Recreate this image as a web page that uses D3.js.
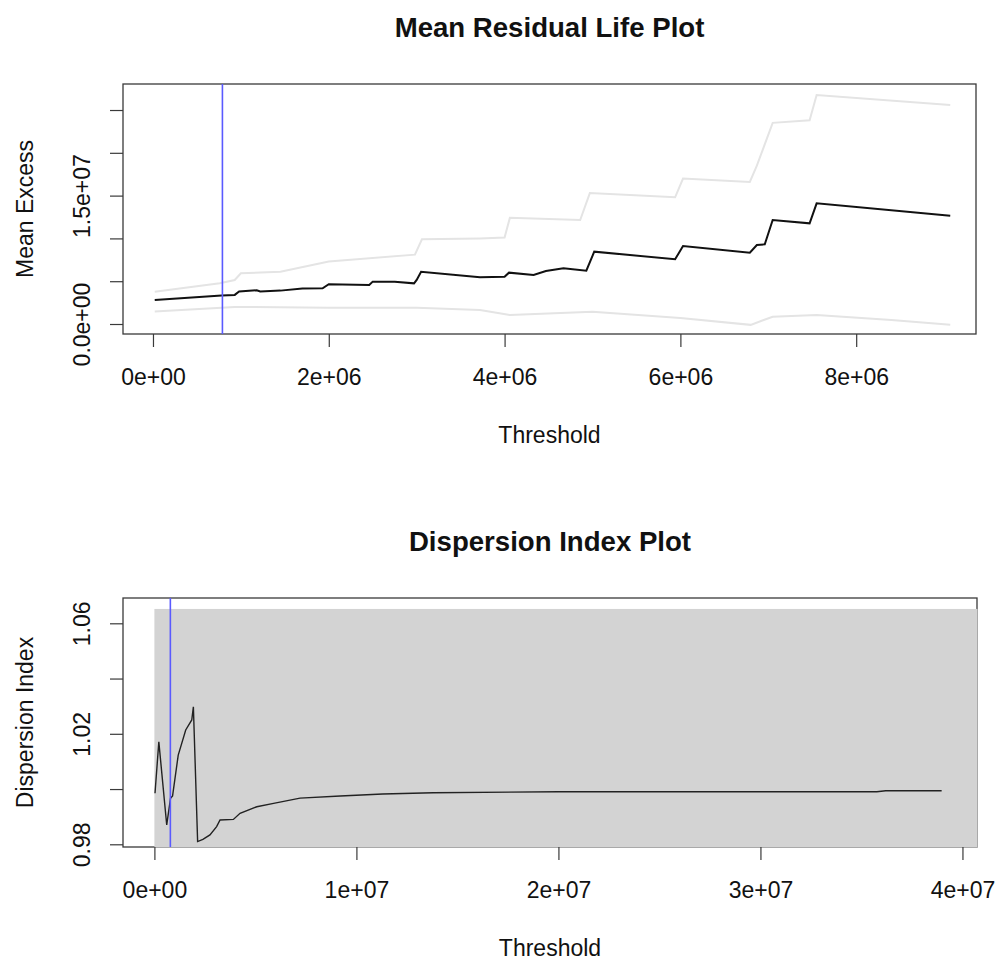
<!DOCTYPE html>
<html>
<head>
<meta charset="utf-8">
<script src="https://cdn.jsdelivr.net/npm/d3@7"></script>
<style>
    body { margin: 0; background: #fff; }
    svg text { font-family: "Liberation Sans", Arial, Helvetica, sans-serif; fill: #111; }
</style>
</head>
<body>
<div id="chart"></div>
<script>
// Mean residual life plot: threshold vs mean excess
const mrlThreshold = [0.02e6, 0.78e6, 0.93e6, 0.98e6, 1.18e6, 1.22e6, 1.45e6, 1.70e6, 1.93e6, 2.00e6, 2.46e6, 2.50e6,
    2.75e6, 2.97e6, 3.00e6, 3.05e6, 3.72e6, 4.00e6, 4.05e6, 4.33e6, 4.47e6, 4.67e6, 4.93e6, 5.02e6, 5.94e6, 6.03e6,
    6.79e6, 6.87e6, 6.96e6, 7.05e6, 7.47e6, 7.55e6, 9.07e6];
const mrlMean = [2.80e6, 3.32e6, 3.40e6, 3.80e6, 3.95e6, 3.80e6, 3.90e6, 4.15e6, 4.18e6, 4.65e6, 4.55e6, 4.95e6,
    4.95e6, 4.75e6, 5.15e6, 6.10e6, 5.45e6, 5.53e6, 6.00e6, 5.73e6, 6.20e6, 6.50e6, 6.23e6, 8.45e6, 7.56e6, 9.11e6,
    8.33e6, 9.23e6, 9.31e6, 12.15e6, 11.76e6, 14.10e6, 12.65e6];

// upper and lower confidence bands (very light grey)
const mrlUpperThreshold = [0.02e6, 0.76e6, 0.93e6, 1.00e6, 1.45e6, 2.00e6, 2.98e6, 3.06e6, 3.72e6, 4.00e6, 4.06e6,
    4.86e6, 4.97e6, 5.94e6, 6.03e6, 6.79e6, 6.87e6, 7.05e6, 7.47e6, 7.55e6, 9.07e6];
const mrlUpper = [3.77e6, 4.75e6, 5.14e6, 5.92e6, 6.10e6, 7.30e6, 8.10e6, 9.90e6, 10.0e6, 10.1e6, 12.4e6,
    12.15e6, 15.3e6, 14.8e6, 17.0e6, 16.6e6, 18.5e6, 23.5e6, 23.8e6, 26.75e6, 25.6e6];
const mrlLowerThreshold = [0.02e6, 0.93e6, 2.00e6, 3.00e6, 3.72e6, 4.06e6, 5.00e6, 6.00e6, 6.80e6, 7.05e6, 7.55e6,
    8.40e6, 9.07e6];
const mrlLower = [1.45e6, 2.00e6, 1.90e6, 1.90e6, 1.64e6, 1.05e6, 1.44e6, 0.70e6, -0.10e6, 0.85e6, 1.05e6,
    0.47e6, -0.10e6];

const mrlXTicks = [0, 2e6, 4e6, 6e6, 8e6];
const mrlXLabels = ['0e+00', '2e+06', '4e+06', '6e+06', '8e+06'];
const mrlYTicks = [0, 5e6, 1e7, 1.5e7, 2e7, 2.5e7];
const mrlYLabels = ['0.0e+00', '', '', '1.5e+07', '', ''];

// Dispersion index plot
const diThreshold = [0.03e6, 0.22e6, 0.61e6, 0.80e6, 0.90e6, 1.18e6, 1.55e6, 1.85e6, 1.93e6, 2.14e6, 2.40e6,
    2.75e6, 3.08e6, 3.25e6, 3.91e6, 4.24e6, 5.07e6, 5.90e6, 7.21e6, 9.20e6, 11.3e6, 13.8e6, 20.0e6, 35.76e6,
    36.2e6, 38.97e6];
const diValue = [0.9985, 1.0171, 0.9870, 0.9967, 0.9975, 1.0123, 1.0214, 1.0250, 1.0298, 0.9810, 0.9818,
    0.9834, 0.9864, 0.9888, 0.9890, 0.9912, 0.9936, 0.9948, 0.9967, 0.9975, 0.9982, 0.99868, 0.9990, 0.9990,
    0.9994, 0.9994];
const diCiThreshold = [0, 41e6];
const diCiUpper = 1.0652;
const diCiLower = 0.9748;

const diXTicks = [0, 1e7, 2e7, 3e7, 4e7];
const diXLabels = ['0e+00', '1e+07', '2e+07', '3e+07', '4e+07'];
const diYTicks = [0.98, 1.00, 1.02, 1.04, 1.06];
const diYLabels = ['0.98', '', '1.02', '', '1.06'];

const chosenThreshold = 0.79e6;

const width = 995, height = 964;
const fontSize = 23, titleSize = 27.6;

const svg = d3.select('#chart')
    .append('svg')
    .attr('width', width)
    .attr('height', height)
    .attr('viewBox', `0 0 ${width} ${height}`);

function panel(o) {
    const x = d3.scaleLinear().domain(o.xDomain).range([o.left, o.right]);
    const y = d3.scaleLinear().domain(o.yDomain).range([o.bottom, o.top]);
    const g = svg.append('g');

    g.append('clipPath').attr('id', o.id + '-clip')
        .append('rect')
        .attr('x', o.left - 0.5).attr('y', o.top - 0.5)
        .attr('width', o.right - o.left + 1).attr('height', o.bottom - o.top + 1);

    // box
    g.append('rect')
        .attr('x', o.left).attr('y', o.top)
        .attr('width', o.right - o.left).attr('height', o.bottom - o.top)
        .attr('fill', 'none').attr('stroke', '#3a3a3a').attr('stroke-width', 1.3);

    const plot = g.append('g').attr('clip-path', `url(#${o.id}-clip)`);
    o.draw(plot, x, y);

    // chosen threshold
    plot.append('line')
        .attr('x1', x(chosenThreshold)).attr('x2', x(chosenThreshold))
        .attr('y1', o.top).attr('y2', o.bottom)
        .attr('stroke', '#5a5aff').attr('stroke-width', 1.6);

    // axes
    const xAxis = g.append('g')
        .attr('transform', `translate(0,${o.bottom})`)
        .call(d3.axisBottom(x).tickValues(o.xTicks).tickSize(13).tickSizeOuter(0)
            .tickFormat((d, i) => o.xLabels[i]));
    const yAxis = g.append('g')
        .attr('transform', `translate(${o.left},0)`)
        .call(d3.axisLeft(y).tickValues(o.yTicks).tickSize(13).tickSizeOuter(0)
            .tickFormat((d, i) => o.yLabels[i]));

    [xAxis, yAxis].forEach(a => {
        a.select('.domain').remove();
        a.selectAll('.tick line').attr('stroke', '#3a3a3a').attr('stroke-width', 1.2);
        a.selectAll('.tick text').attr('font-size', fontSize).attr('fill', '#111');
    });
    xAxis.selectAll('.tick text').attr('dy', null).attr('y', 51);
    // rotated y tick labels, like R's las = 0
    yAxis.selectAll('.tick text')
        .attr('x', null).attr('dy', null)
        .attr('text-anchor', 'middle')
        .attr('transform', `translate(${90 - o.left},0) rotate(-90)`);

    // titles
    const cx = (o.left + o.right) / 2;
    g.append('text')
        .attr('x', cx).attr('y', o.top - 47)
        .attr('text-anchor', 'middle')
        .attr('font-size', titleSize).attr('font-weight', 'bold')
        .text(o.title);
    g.append('text')
        .attr('x', cx).attr('y', o.bottom + 109)
        .attr('text-anchor', 'middle')
        .attr('font-size', fontSize)
        .text(o.xTitle);
    g.append('text')
        .attr('transform', `translate(33,${(o.top + o.bottom) / 2}) rotate(-90)`)
        .attr('text-anchor', 'middle')
        .attr('font-size', fontSize)
        .text(o.yTitle);
}

const line = d3.line();

panel({
    id: 'mrl',
    left: 123, right: 976, top: 84, bottom: 334,
    xDomain: [-0.341e6, 9.363e6],
    yDomain: [-1.168e6, 28.04e6],
    xTicks: mrlXTicks, xLabels: mrlXLabels,
    yTicks: mrlYTicks, yLabels: mrlYLabels,
    title: 'Mean Residual Life Plot', xTitle: 'Threshold', yTitle: 'Mean Excess',
    draw: (p, x, y) => {
        p.append('path')
            .attr('d', line(mrlUpperThreshold.map((t, i) => [x(t), y(mrlUpper[i])])))
            .attr('fill', 'none').attr('stroke', '#e4e4e4').attr('stroke-width', 2);
        p.append('path')
            .attr('d', line(mrlLowerThreshold.map((t, i) => [x(t), y(mrlLower[i])])))
            .attr('fill', 'none').attr('stroke', '#e4e4e4').attr('stroke-width', 2);
        p.append('path')
            .attr('d', line(mrlThreshold.map((t, i) => [x(t), y(mrlMean[i])])))
            .attr('fill', 'none').attr('stroke', '#111').attr('stroke-width', 2);
    }
});

panel({
    id: 'di',
    left: 123, right: 977, top: 598, bottom: 847,
    xDomain: [-1.554e6, 40.72e6],
    yDomain: [0.97902, 1.06916],
    xTicks: diXTicks, xLabels: diXLabels,
    yTicks: diYTicks, yLabels: diYLabels,
    title: 'Dispersion Index Plot', xTitle: 'Threshold', yTitle: 'Dispersion Index',
    draw: (p, x, y) => {
        p.append('rect')
            .attr('x', x(diCiThreshold[0]))
            .attr('y', y(diCiUpper))
            .attr('width', x(diCiThreshold[1]) - x(diCiThreshold[0]))
            .attr('height', y(diCiLower) - y(diCiUpper))
            .attr('fill', '#d3d3d3');
        p.append('path')
            .attr('d', line(diThreshold.map((t, i) => [x(t), y(diValue[i])])))
            .attr('fill', 'none').attr('stroke', '#222').attr('stroke-width', 1.4);
    }
});
</script>
</body>
</html>
